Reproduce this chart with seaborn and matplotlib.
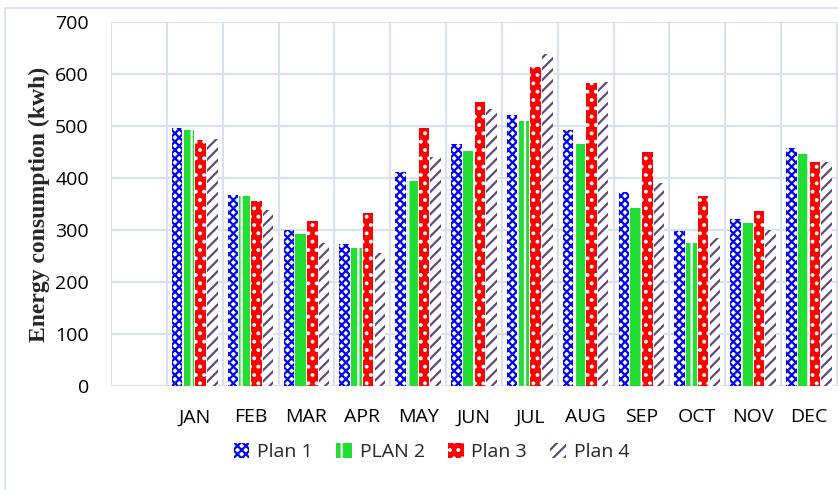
import pandas as pd
import seaborn as sns
import matplotlib.pyplot as plt
from matplotlib.patches import Rectangle, Patch

# Monthly energy consumption per plan (kwh)
months = ['JAN', 'FEB', 'MAR', 'APR', 'MAY', 'JUN', 'JUL', 'AUG', 'SEP', 'OCT', 'NOV', 'DEC']
plan1 = [496, 367, 301, 274, 412, 465, 521, 492, 373, 299, 322, 457]
plan2 = [492, 365, 293, 265, 394, 452, 510, 465, 342, 276, 313, 446]
plan3 = [473, 356, 317, 332, 496, 547, 614, 582, 451, 365, 336, 431]
plan4 = [476, 338, 276, 256, 441, 533, 638, 584, 390, 284, 301, 431]
plans = ['Plan 1', 'PLAN 2', 'Plan 3', 'Plan 4']

df = pd.DataFrame({'month': months * 4,
                   'plan': [p for p in plans for _ in months],
                   'value': plan1 + plan2 + plan3 + plan4})

# Excel-like styles: (face, hatch colour, hatch)
styles = {
    'Plan 1': ('white', '#0000FF', 'xxxx'),
    'PLAN 2': ('#22DD33', 'white', '|'),
    'Plan 3': ('#FF0000', 'white', '..'),
    'Plan 4': ('white', '#5E4A7E', '///'),
}

sns.set_style('white')
plt.rcParams['font.family'] = ['Open Sans', 'DejaVu Sans']
plt.rcParams['hatch.linewidth'] = 1.6

fig = plt.figure(figsize=(8.38, 4.9), dpi=100)
ax = fig.add_axes([0.1325, 0.212, 0.8675, 0.743])

order = [' '] + months  # leading empty slot like the original
sns.barplot(data=df, x='month', y='value', hue='plan', order=order,
            hue_order=plans, width=0.84, gap=0.1, ax=ax, legend=False)

# style the bars per plan
for container, plan in zip(ax.containers, plans):
    face, hcol, hatch = styles[plan]
    for bar in container:
        bar.set_facecolor(face)
        bar.set_edgecolor(hcol)
        bar.set_hatch(hatch)
        bar.set_linewidth(0)

ax.set_ylim(0, 700)
ax.set_yticks(range(0, 701, 100))
ax.set_xlim(-0.5, 12.52)
ax.set_xticks(range(13))
ax.set_xticklabels([''] + months)
ax.set_xticks([i - 0.5 for i in range(14)], minor=True)

grid_col = '#D6E2F3'
ax.grid(True, axis='y', color=grid_col, lw=1.5)
ax.grid(True, axis='x', which='minor', color=grid_col, lw=1.5)
ax.set_axisbelow(True)
for s in ax.spines.values():
    s.set_visible(False)
ax.tick_params(axis='both', which='both', length=0, labelsize=14, colors='black')
ax.tick_params(axis='x', pad=16)
ax.tick_params(axis='y', pad=16)

ax.set_xlabel('')
ax.set_ylabel('Energy consumption (kwh)', family='Liberation Serif',
              fontweight='bold', fontsize=17, labelpad=4)

handles = []
for plan in plans:
    face, hcol, hatch = styles[plan]
    handles.append(Patch(facecolor=face, edgecolor=hcol, hatch=hatch, lw=0))
fig.legend(handles, plans, loc='center', bbox_to_anchor=(0.515, 0.077), ncol=4,
           frameon=False, fontsize=14, handlelength=0.8, handleheight=0.8,
           handletextpad=0.4, columnspacing=1.2)

# chart area border
fig.patches.append(Rectangle((0.006, -0.05), 1.2, 1.034,
                             transform=fig.transFigure, fill=False,
                             edgecolor=grid_col, lw=1.2))

fig.savefig('out.png', dpi=100)
